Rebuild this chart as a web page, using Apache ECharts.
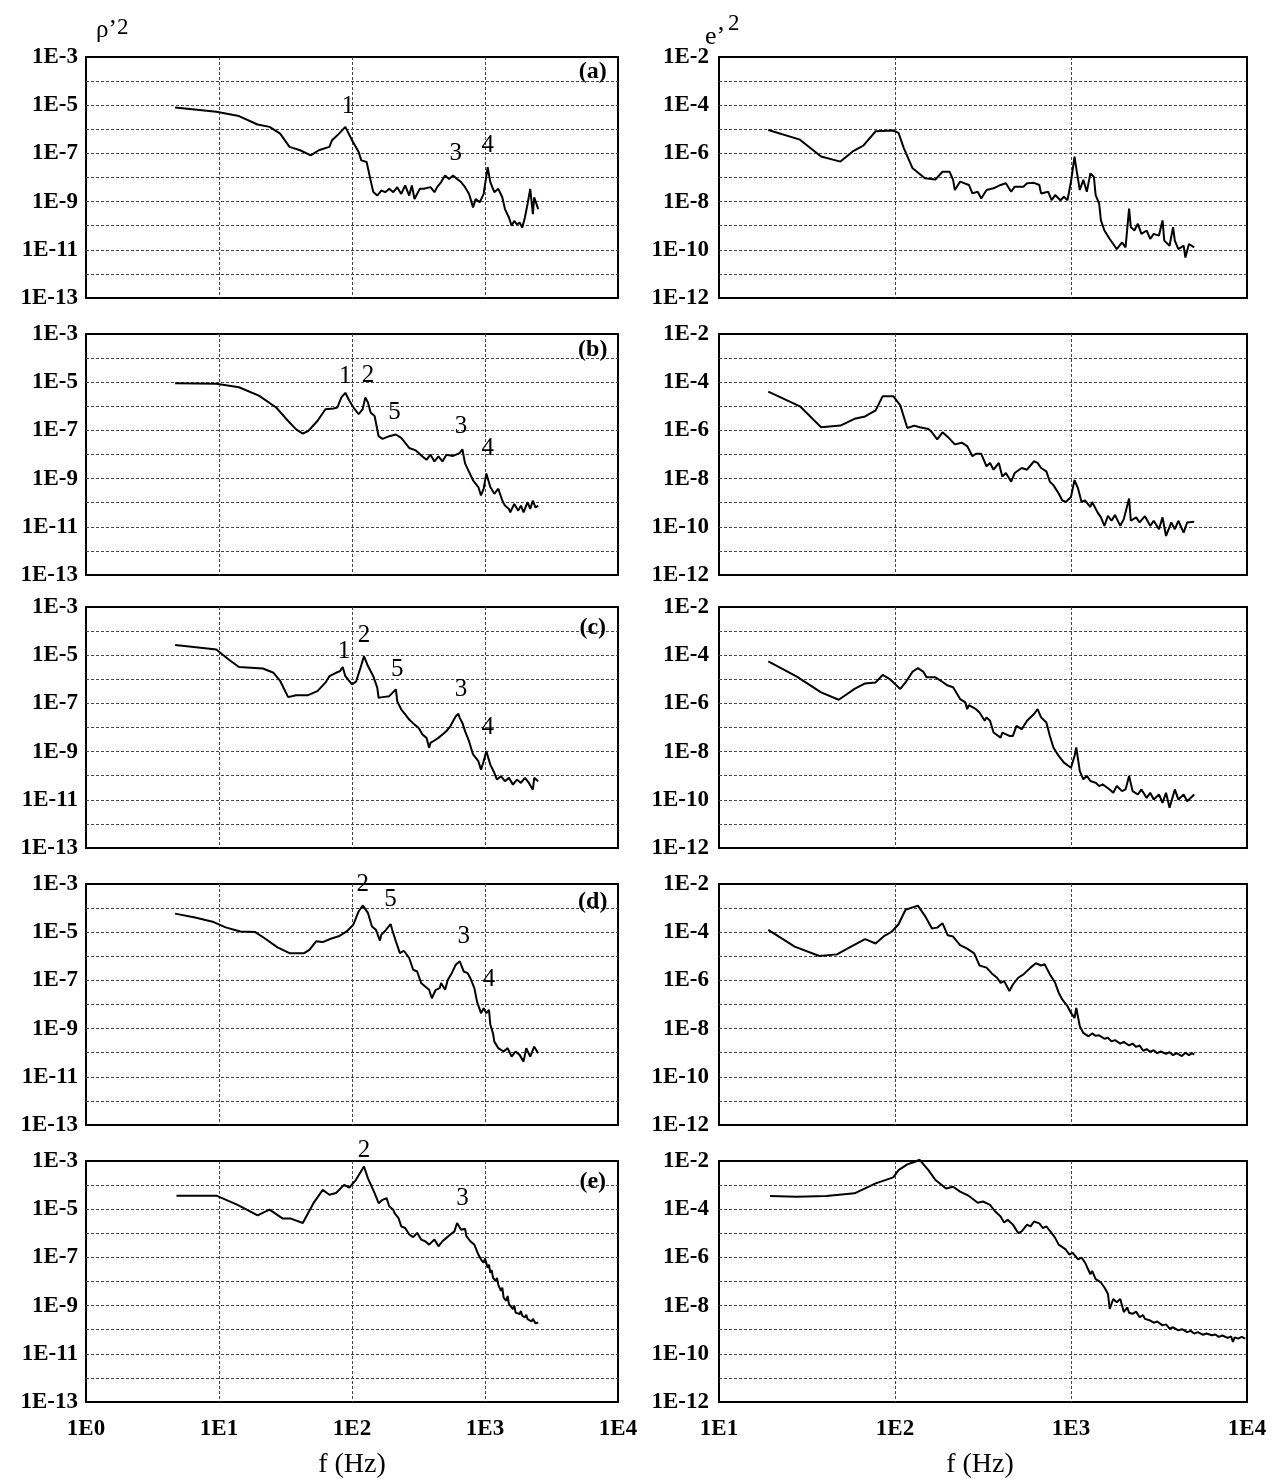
<!DOCTYPE html>
<html><head><meta charset="utf-8">
<script src="https://cdn.jsdelivr.net/npm/echarts@6/dist/echarts.min.js"></script>
<style>html,body{margin:0;padding:0;background:#fff}#c{width:1284px;height:1484px}</style>
</head><body><div id="c"></div>
<script>
// All values as [log10(f / Hz), log10(PSD)]
const xLabelsLeft = ['1E0','1E1','1E2','1E3','1E4'];
const xLabelsRight = ['1E1','1E2','1E3','1E4'];
const yLabelsLeft = ['1E-13','1E-11','1E-9','1E-7','1E-5','1E-3'];
const yLabelsRight = ['1E-12','1E-10','1E-8','1E-6','1E-4','1E-2'];
const panelLetters = ['(a)','(b)','(c)','(d)','(e)'];

const rhoA = [[0.67,-5.10],[0.98,-5.27],[1.15,-5.45],[1.29,-5.80],[1.38,-5.90],[1.46,-6.18],[1.53,-6.73],[1.61,-6.87],[1.69,-7.08],[1.75,-6.87],[1.83,-6.73],[1.85,-6.45],[1.89,-6.25],[1.95,-5.90],[2.00,-6.45],[2.05,-6.94],[2.07,-7.29],[2.11,-7.36],[2.14,-8.12],[2.16,-8.60],[2.19,-8.75],[2.22,-8.54],[2.25,-8.61],[2.28,-8.47],[2.31,-8.61],[2.34,-8.40],[2.37,-8.68],[2.40,-8.33],[2.43,-8.75],[2.45,-8.33],[2.47,-8.89],[2.51,-8.47],[2.54,-8.47],[2.59,-8.40],[2.62,-8.61],[2.64,-8.40],[2.67,-8.19],[2.70,-7.92],[2.73,-8.06],[2.76,-7.92],[2.79,-8.06],[2.82,-8.19],[2.85,-8.40],[2.88,-8.68],[2.91,-9.24],[2.93,-8.89],[2.96,-9.03],[2.99,-8.68],[3.02,-7.57],[3.04,-8.19],[3.07,-8.61],[3.10,-8.47],[3.13,-8.82],[3.15,-9.31],[3.18,-9.66],[3.20,-10.0],[3.22,-9.80],[3.24,-9.95],[3.26,-9.87],[3.28,-10.08],[3.30,-9.66],[3.32,-9.10],[3.34,-8.47],[3.36,-9.52],[3.37,-8.82],[3.40,-9.31]];
const rhoB = [[0.67,-5.04],[0.98,-5.06],[1.15,-5.21],[1.30,-5.56],[1.43,-6.05],[1.52,-6.61],[1.58,-6.96],[1.63,-7.13],[1.67,-7.03],[1.74,-6.61],[1.80,-6.12],[1.86,-6.09],[1.89,-6.05],[1.92,-5.63],[1.95,-5.44],[1.98,-5.77],[2.02,-6.12],[2.05,-6.33],[2.08,-6.12],[2.10,-5.63],[2.12,-5.84],[2.14,-6.26],[2.17,-6.40],[2.20,-7.24],[2.23,-7.35],[2.28,-7.24],[2.33,-7.17],[2.37,-7.31],[2.40,-7.52],[2.43,-7.73],[2.48,-7.83],[2.53,-8.08],[2.56,-8.22],[2.59,-8.01],[2.62,-8.29],[2.65,-8.08],[2.68,-8.29],[2.71,-8.01],[2.76,-8.06],[2.81,-7.94],[2.83,-7.78],[2.85,-8.37],[2.88,-8.72],[2.91,-9.07],[2.95,-9.35],[2.97,-9.70],[2.99,-9.42],[3.01,-8.79],[3.04,-9.35],[3.07,-9.63],[3.10,-9.42],[3.13,-9.91],[3.15,-10.12],[3.18,-10.26],[3.19,-10.40],[3.22,-10.05],[3.25,-10.33],[3.27,-10.12],[3.29,-10.40],[3.32,-9.98],[3.34,-10.26],[3.36,-9.91],[3.38,-10.20],[3.40,-10.12]];
const rhoC = [[0.67,-4.58],[0.81,-4.66],[0.98,-4.76],[1.07,-5.17],[1.15,-5.49],[1.33,-5.55],[1.41,-5.73],[1.46,-6.07],[1.52,-6.74],[1.58,-6.66],[1.67,-6.66],[1.74,-6.49],[1.80,-6.14],[1.83,-5.87],[1.88,-5.73],[1.91,-5.66],[1.93,-5.49],[1.95,-5.87],[2.00,-6.21],[2.03,-6.10],[2.06,-5.59],[2.09,-5.04],[2.12,-5.45],[2.16,-5.87],[2.19,-6.35],[2.20,-6.77],[2.23,-6.74],[2.28,-6.70],[2.33,-6.42],[2.34,-6.91],[2.37,-7.25],[2.40,-7.46],[2.43,-7.67],[2.47,-7.88],[2.50,-8.01],[2.53,-8.29],[2.56,-8.43],[2.58,-8.84],[2.59,-8.64],[2.62,-8.54],[2.65,-8.43],[2.68,-8.29],[2.71,-8.15],[2.74,-7.94],[2.78,-7.53],[2.80,-7.43],[2.81,-7.60],[2.83,-7.81],[2.85,-8.15],[2.88,-8.57],[2.91,-9.12],[2.95,-9.40],[2.97,-9.75],[2.99,-9.40],[3.01,-8.98],[3.04,-9.54],[3.07,-9.88],[3.09,-10.16],[3.12,-10.02],[3.15,-10.23],[3.18,-10.09],[3.21,-10.37],[3.24,-10.16],[3.27,-10.30],[3.30,-10.09],[3.33,-10.30],[3.36,-10.58],[3.37,-10.09],[3.40,-10.23]];
const rhoD = [[0.67,-4.23],[0.82,-4.39],[0.96,-4.58],[1.05,-4.80],[1.16,-4.97],[1.27,-4.99],[1.34,-5.24],[1.44,-5.63],[1.53,-5.87],[1.64,-5.87],[1.68,-5.73],[1.73,-5.38],[1.78,-5.41],[1.84,-5.27],[1.90,-5.17],[1.96,-4.97],[2.01,-4.69],[2.05,-4.14],[2.08,-3.89],[2.12,-4.20],[2.15,-4.76],[2.18,-4.90],[2.21,-5.35],[2.22,-5.11],[2.25,-4.94],[2.29,-4.66],[2.31,-5.04],[2.33,-5.38],[2.36,-5.87],[2.39,-5.77],[2.43,-6.07],[2.46,-6.56],[2.49,-6.63],[2.52,-7.11],[2.55,-7.25],[2.58,-7.39],[2.60,-7.74],[2.63,-7.39],[2.66,-7.32],[2.67,-7.11],[2.70,-7.39],[2.72,-6.98],[2.75,-6.70],[2.78,-6.35],[2.81,-6.21],[2.84,-6.63],[2.87,-6.70],[2.89,-6.91],[2.92,-7.32],[2.94,-7.88],[2.97,-8.36],[2.99,-8.15],[3.01,-8.36],[3.03,-8.22],[3.04,-8.84],[3.06,-9.19],[3.07,-9.54],[3.10,-9.81],[3.14,-9.95],[3.17,-9.81],[3.20,-10.16],[3.23,-9.95],[3.26,-10.09],[3.29,-10.37],[3.31,-9.81],[3.34,-10.16],[3.37,-9.75],[3.40,-10.02]];
const rhoE = [[0.68,-4.44],[0.98,-4.44],[1.14,-4.82],[1.29,-5.26],[1.38,-5.02],[1.48,-5.39],[1.54,-5.39],[1.63,-5.57],[1.71,-4.75],[1.78,-4.20],[1.83,-4.40],[1.88,-4.33],[1.94,-3.99],[1.98,-4.10],[2.03,-3.78],[2.09,-3.23],[2.12,-3.72],[2.17,-4.33],[2.20,-4.75],[2.23,-4.61],[2.26,-4.54],[2.28,-4.88],[2.31,-5.02],[2.32,-5.16],[2.35,-5.37],[2.37,-5.71],[2.40,-5.78],[2.43,-6.05],[2.46,-6.16],[2.49,-5.98],[2.52,-6.26],[2.55,-6.33],[2.58,-6.47],[2.62,-6.26],[2.65,-6.54],[2.68,-6.33],[2.71,-6.19],[2.74,-6.05],[2.77,-5.92],[2.79,-5.57],[2.82,-5.85],[2.85,-5.81],[2.86,-6.12],[2.89,-6.33],[2.92,-6.47],[2.95,-6.88],[2.97,-7.09],[2.99,-7.22],[3.00,-7.05],[3.02,-7.43],[3.03,-7.30],[3.04,-7.64],[3.05,-7.52],[3.06,-7.84],[3.08,-7.98],[3.09,-7.85],[3.10,-8.14],[3.12,-8.39],[3.13,-8.25],[3.14,-8.67],[3.16,-8.80],[3.17,-8.60],[3.18,-8.94],[3.21,-9.15],[3.22,-9.00],[3.23,-9.29],[3.26,-9.35],[3.27,-9.22],[3.28,-9.42],[3.30,-9.49],[3.31,-9.38],[3.32,-9.56],[3.35,-9.66],[3.36,-9.55],[3.38,-9.74],[3.40,-9.70]];

const eA = [[1.28,-5.03],[1.46,-5.43],[1.58,-6.13],[1.69,-6.34],[1.76,-5.92],[1.82,-5.68],[1.89,-5.08],[1.99,-5.05],[2.02,-5.15],[2.05,-5.78],[2.10,-6.62],[2.17,-7.03],[2.23,-7.08],[2.27,-6.76],[2.31,-6.76],[2.33,-7.10],[2.34,-7.52],[2.37,-7.17],[2.42,-7.31],[2.44,-7.66],[2.47,-7.59],[2.49,-7.87],[2.52,-7.52],[2.56,-7.45],[2.60,-7.31],[2.63,-7.24],[2.66,-7.59],[2.68,-7.38],[2.73,-7.38],[2.75,-7.24],[2.79,-7.22],[2.82,-7.31],[2.83,-7.66],[2.87,-7.59],[2.89,-7.94],[2.91,-7.73],[2.94,-7.94],[2.96,-7.80],[2.98,-7.94],[3.00,-7.17],[3.02,-6.13],[3.03,-6.62],[3.04,-6.55],[3.05,-7.52],[3.07,-7.10],[3.09,-7.59],[3.11,-6.83],[3.13,-6.97],[3.14,-7.73],[3.16,-8.08],[3.17,-8.78],[3.19,-9.20],[3.22,-9.55],[3.24,-9.76],[3.26,-9.97],[3.29,-9.69],[3.31,-9.90],[3.33,-8.29],[3.34,-9.06],[3.36,-9.20],[3.38,-8.92],[3.40,-9.34],[3.43,-9.20],[3.45,-9.55],[3.47,-9.34],[3.50,-9.41],[3.52,-8.78],[3.53,-9.62],[3.56,-9.83],[3.58,-9.06],[3.59,-9.62],[3.61,-9.97],[3.64,-9.83],[3.65,-10.32],[3.67,-9.76],[3.70,-9.90]];
const eB = [[1.28,-4.39],[1.46,-5.00],[1.58,-5.87],[1.69,-5.80],[1.77,-5.52],[1.83,-5.42],[1.89,-5.17],[1.93,-4.58],[1.99,-4.58],[2.03,-4.96],[2.07,-5.90],[2.11,-5.80],[2.14,-5.87],[2.19,-5.94],[2.21,-6.08],[2.24,-6.37],[2.27,-6.08],[2.30,-6.27],[2.34,-6.58],[2.38,-6.51],[2.41,-6.65],[2.44,-7.07],[2.46,-6.97],[2.49,-6.97],[2.52,-7.49],[2.54,-7.35],[2.56,-7.63],[2.59,-7.35],[2.61,-7.92],[2.63,-7.77],[2.66,-8.13],[2.68,-7.77],[2.72,-7.56],[2.75,-7.63],[2.79,-7.28],[2.81,-7.35],[2.83,-7.56],[2.86,-7.70],[2.88,-8.13],[2.90,-8.27],[2.93,-8.62],[2.95,-8.90],[2.97,-8.97],[3.00,-8.76],[3.02,-8.06],[3.04,-8.41],[3.06,-8.97],[3.08,-8.90],[3.11,-9.18],[3.12,-8.97],[3.15,-9.39],[3.17,-9.61],[3.19,-9.96],[3.21,-9.54],[3.23,-9.75],[3.25,-9.51],[3.28,-9.96],[3.30,-9.68],[3.33,-8.83],[3.34,-9.75],[3.37,-9.61],[3.39,-9.82],[3.42,-9.56],[3.45,-9.96],[3.47,-9.75],[3.50,-10.10],[3.52,-9.61],[3.54,-10.38],[3.57,-9.82],[3.59,-10.10],[3.61,-9.75],[3.64,-10.24],[3.66,-9.82],[3.70,-9.79]];
const eC = [[1.28,-4.26],[1.44,-4.88],[1.58,-5.54],[1.68,-5.85],[1.72,-5.65],[1.77,-5.40],[1.83,-5.17],[1.89,-5.13],[1.93,-4.82],[1.97,-4.99],[2.03,-5.40],[2.06,-5.13],[2.10,-4.68],[2.13,-4.54],[2.16,-4.68],[2.18,-4.92],[2.23,-4.92],[2.26,-5.06],[2.30,-5.26],[2.33,-5.33],[2.37,-5.82],[2.40,-5.96],[2.41,-6.24],[2.42,-6.07],[2.46,-6.24],[2.48,-6.38],[2.51,-6.72],[2.52,-6.58],[2.54,-6.72],[2.56,-7.21],[2.60,-7.42],[2.61,-7.21],[2.65,-7.35],[2.67,-7.35],[2.69,-6.93],[2.72,-7.07],[2.75,-6.72],[2.79,-6.44],[2.81,-6.24],[2.83,-6.58],[2.86,-6.79],[2.88,-7.35],[2.90,-7.83],[2.93,-8.18],[2.96,-8.46],[3.00,-8.67],[3.02,-8.18],[3.03,-7.83],[3.05,-8.81],[3.07,-9.15],[3.09,-9.01],[3.11,-9.22],[3.14,-9.29],[3.16,-9.43],[3.18,-9.36],[3.22,-9.57],[3.24,-9.71],[3.26,-9.43],[3.29,-9.64],[3.31,-9.57],[3.33,-9.01],[3.35,-9.64],[3.38,-9.78],[3.40,-9.57],[3.43,-9.92],[3.45,-9.71],[3.47,-9.99],[3.50,-9.78],[3.52,-10.13],[3.54,-9.71],[3.56,-10.33],[3.59,-9.57],[3.61,-9.99],[3.64,-9.78],[3.66,-10.06],[3.70,-9.78]];
const eD = [[1.28,-3.90],[1.43,-4.60],[1.57,-4.99],[1.67,-4.92],[1.75,-4.60],[1.83,-4.29],[1.89,-4.47],[1.94,-4.15],[1.98,-3.99],[2.02,-3.67],[2.06,-3.07],[2.10,-2.97],[2.13,-2.90],[2.17,-3.32],[2.21,-3.85],[2.24,-3.81],[2.27,-3.63],[2.30,-4.13],[2.33,-4.18],[2.37,-4.54],[2.41,-4.68],[2.45,-4.88],[2.48,-5.38],[2.52,-5.47],[2.55,-5.71],[2.58,-5.89],[2.60,-6.10],[2.62,-6.03],[2.65,-6.44],[2.67,-6.17],[2.70,-5.89],[2.73,-5.75],[2.77,-5.47],[2.80,-5.29],[2.83,-5.38],[2.85,-5.33],[2.88,-5.75],[2.91,-6.10],[2.93,-6.51],[2.95,-6.79],[2.98,-7.07],[3.00,-7.35],[3.02,-7.56],[3.03,-7.14],[3.05,-7.90],[3.07,-8.18],[3.10,-8.32],[3.12,-8.20],[3.14,-8.30],[3.16,-8.28],[3.19,-8.42],[3.21,-8.38],[3.23,-8.53],[3.25,-8.48],[3.28,-8.62],[3.30,-8.55],[3.33,-8.70],[3.35,-8.62],[3.37,-8.76],[3.39,-8.70],[3.41,-8.92],[3.43,-8.85],[3.45,-8.96],[3.47,-8.90],[3.49,-9.02],[3.51,-8.95],[3.54,-9.05],[3.56,-8.98],[3.58,-9.10],[3.60,-9.02],[3.63,-9.14],[3.65,-9.00],[3.67,-9.10],[3.69,-9.02],[3.70,-9.08]];
const eE = [[1.29,-3.45],[1.44,-3.48],[1.61,-3.45],[1.77,-3.34],[1.89,-2.93],[1.99,-2.68],[2.02,-2.38],[2.07,-2.14],[2.11,-2.04],[2.14,-1.95],[2.19,-2.38],[2.23,-2.79],[2.29,-3.14],[2.33,-3.07],[2.37,-3.27],[2.42,-3.45],[2.47,-3.73],[2.50,-3.68],[2.54,-3.82],[2.57,-4.10],[2.60,-4.30],[2.62,-4.55],[2.64,-4.44],[2.67,-4.64],[2.70,-4.99],[2.72,-4.92],[2.75,-4.64],[2.77,-4.71],[2.79,-4.51],[2.82,-4.59],[2.84,-4.78],[2.86,-4.71],[2.89,-4.99],[2.91,-5.19],[2.93,-5.47],[2.97,-5.67],[2.99,-5.88],[3.01,-5.81],[3.04,-6.08],[3.06,-6.01],[3.08,-6.22],[3.11,-6.70],[3.12,-6.56],[3.14,-6.90],[3.17,-7.04],[3.19,-7.25],[3.21,-7.52],[3.22,-8.14],[3.24,-7.73],[3.26,-7.86],[3.28,-7.73],[3.30,-8.27],[3.32,-8.07],[3.33,-8.30],[3.35,-8.34],[3.37,-8.25],[3.39,-8.48],[3.41,-8.40],[3.42,-8.55],[3.45,-8.62],[3.47,-8.71],[3.49,-8.66],[3.52,-8.82],[3.54,-8.78],[3.56,-8.96],[3.58,-8.90],[3.61,-9.03],[3.63,-8.98],[3.66,-9.10],[3.68,-9.05],[3.70,-9.16],[3.72,-9.10],[3.75,-9.21],[3.77,-9.16],[3.80,-9.23],[3.82,-9.20],[3.84,-9.30],[3.86,-9.24],[3.89,-9.34],[3.91,-9.28],[3.92,-9.51],[3.93,-9.32],[3.95,-9.37],[3.97,-9.30],[3.99,-9.37]];

// peak numbers: [log10 f, log10 PSD, text]
const annRhoA = [[1.97,-5.06,'1'],[2.78,-7.00,'3'],[3.02,-6.66,'4']];
const annRhoB = [[1.95,-4.78,'1'],[2.12,-4.71,'2'],[2.32,-6.26,'5'],[2.82,-6.82,'3'],[3.02,-7.73,'4']];
const annRhoC = [[1.94,-4.83,'1'],[2.09,-4.20,'2'],[2.34,-5.59,'5'],[2.82,-6.42,'3'],[3.02,-8.01,'4']];
const annRhoD = [[2.08,-3.03,'2'],[2.29,-3.65,'5'],[2.84,-5.17,'3'],[3.03,-6.98,'4']];
const annRhoE = [[2.09,-2.55,'2'],[2.83,-4.54,'3']];
const letterPos = [[3.81,-3.60],[3.81,-3.66],[3.81,-3.86],[3.81,-3.72],[3.81,-3.85]];

const rhoSeries = [rhoA, rhoB, rhoC, rhoD, rhoE];
const eSeries = [eA, eB, eC, eD, eE];
const annRho = [annRhoA, annRhoB, annRhoC, annRhoD, annRhoE];

const FONT = '"Liberation Serif","Times New Roman",serif';
const tops = [57, 334, 607, 884, 1161];
const H = 241;
const grids = [], xAxes = [], yAxes = [], series = [];
const splitStyle = {show:true, showMinLine:false, showMaxLine:false, lineStyle:{type:[3,2], color:'#444', width:1}};
const tickFont = {fontFamily:FONT, fontSize:23, fontWeight:'bold', color:'#000'};

function lab(arr, min, step) {
  return function(v){ const k = Math.round(v) - min; return (k % step === 0) ? (arr[k/step] || '') : ''; };
}

for (let i = 0; i < 5; i++) {
  grids.push({left:86, top:tops[i], width:532, height:H, show:true, borderColor:'#000', borderWidth:2, backgroundColor:'#fff'});
  grids.push({left:719, top:tops[i], width:528, height:H, show:true, borderColor:'#000', borderWidth:2, backgroundColor:'#fff'});
  const gl = 2*i, gr = 2*i+1;
  xAxes.push({gridIndex:gl, type:'value', min:0, max:4, interval:1, axisLine:{show:false}, axisTick:{show:false},
    axisLabel:Object.assign({show:i===4, margin:16, formatter:lab(xLabelsLeft,0,1)}, tickFont), splitLine:splitStyle});
  xAxes.push({gridIndex:gr, type:'value', min:1, max:4, interval:1, axisLine:{show:false}, axisTick:{show:false},
    axisLabel:Object.assign({show:i===4, margin:16, formatter:lab(xLabelsRight,1,1)}, tickFont), splitLine:splitStyle});
  yAxes.push({gridIndex:gl, type:'value', min:-13, max:-3, interval:1, axisLine:{show:false}, axisTick:{show:false},
    axisLabel:Object.assign({margin:8, formatter:lab(yLabelsLeft,-13,2)}, tickFont), splitLine:splitStyle});
  yAxes.push({gridIndex:gr, type:'value', min:-12, max:-2, interval:1, axisLine:{show:false}, axisTick:{show:false},
    axisLabel:Object.assign({margin:10, formatter:lab(yLabelsRight,-12,2)}, tickFont), splitLine:splitStyle});
  series.push({type:'line', xAxisIndex:gl, yAxisIndex:gl, data:rhoSeries[i], showSymbol:false, symbol:'none',
    lineStyle:{color:'#000', width:2}, animation:false, z:3});
  series.push({type:'line', xAxisIndex:gr, yAxisIndex:gr, data:eSeries[i], showSymbol:false, symbol:'none',
    lineStyle:{color:'#000', width:2}, animation:false, z:3, clip:false});
  series.push({type:'scatter', xAxisIndex:gl, yAxisIndex:gl, data:annRho[i], symbolSize:0, clip:false, animation:false, silent:true,
    itemStyle:{opacity:1, color:'#000'},
    label:{show:true, position:'inside', formatter:p=>p.data[2], fontFamily:FONT, fontSize:25, color:'#000', opacity:1}, z:4});
  series.push({type:'scatter', xAxisIndex:gl, yAxisIndex:gl, data:[[letterPos[i][0], letterPos[i][1], panelLetters[i]]], symbolSize:0, clip:false, animation:false, silent:true,
    itemStyle:{opacity:1, color:'#000'},
    label:{show:true, position:'inside', formatter:p=>p.data[2], fontFamily:FONT, fontSize:24, fontWeight:'bold', color:'#000', opacity:1}, z:4});
}

const chart = echarts.init(document.getElementById('c'), null, {renderer:'canvas'});
chart.setOption({
  backgroundColor:'#fff',
  animation:false,
  grid:grids, xAxis:xAxes, yAxis:yAxes, series:series,
  graphic:[
    {type:'text', x:96, y:18, style:{text:'ρ\u2019', font:'25px ' + FONT, fill:'#000'}},
    {type:'text', x:117, y:16, style:{text:'2', font:'23px ' + FONT, fill:'#000'}},
    {type:'text', x:705, y:24, style:{text:'e\u2019', font:'26px ' + FONT, fill:'#000'}},
    {type:'text', x:728, y:12, style:{text:'2', font:'23px ' + FONT, fill:'#000'}},
    {type:'text', x:352, y:1465, style:{text:'f (Hz)', font:'28px ' + FONT, fill:'#000', align:'center', verticalAlign:'middle'}},
    {type:'text', x:980, y:1465, style:{text:'f (Hz)', font:'28px ' + FONT, fill:'#000', align:'center', verticalAlign:'middle'}}
  ]
});
</script></body></html>
